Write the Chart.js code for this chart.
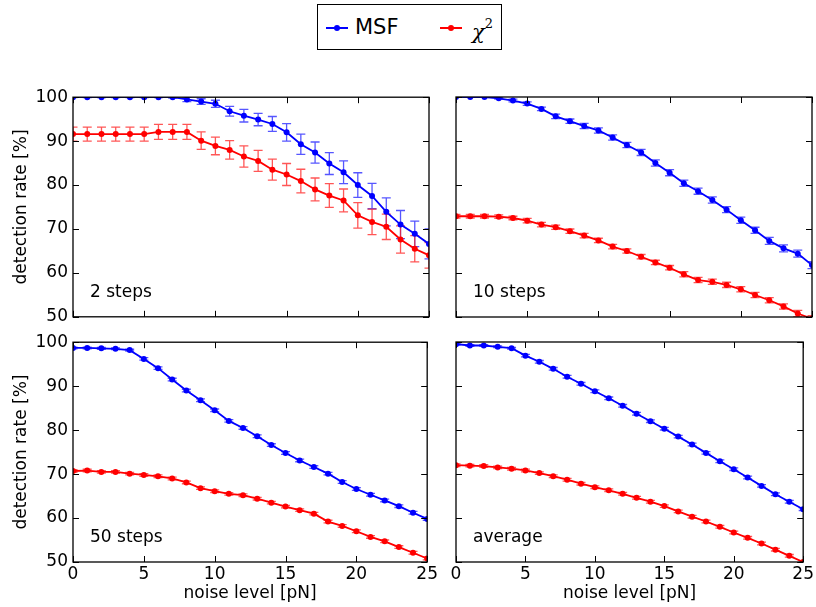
<!DOCTYPE html>
<html>
<head>
<meta charset="utf-8">
<script src="https://cdn.jsdelivr.net/npm/chart.js@4/dist/chart.umd.min.js"></script>
<style>
  body { margin: 0; background: #fff; }
  #figure { position: relative; width: 816px; height: 607px; overflow: hidden; font-family: 'DejaVu Sans', sans-serif; }
  #figure canvas { position: absolute; }
  #legend {
    position: absolute; left: 317px; top: 4px; width: 185px; height: 46px;
    box-sizing: border-box; border: 1.3px solid #000; background: #fff;
  }
  .key { position: absolute; top: 22px; width: 22px; height: 2px; }
  .key::after {
    content: ''; position: absolute; left: 8px; top: -2px;
    width: 6px; height: 6px; border-radius: 50%; background: inherit;
  }
  .key-label { position: absolute; top: 9px; font-size: 21px; line-height: 26px; color: #000; }
  .chi { font-family: 'DejaVu Serif', serif; font-style: italic; }
  .chi sup { font-style: normal; font-size: 13px; position: relative; top: -3px; }
</style>
</head>
<body>
<div id="figure">
  <div id="legend">
    <div class="key" style="left:8px; background:#0000ff"></div>
    <div class="key-label" style="left:37px">MSF</div>
    <div class="key" style="left:122px; background:#ff0000"></div>
    <div class="key-label chi" style="left:154px">χ<sup>2</sup></div>
  </div>
  <canvas id="p2"></canvas>
  <canvas id="p10"></canvas>
  <canvas id="p50"></canvas>
  <canvas id="pavg"></canvas>
</div>
<script>
// noise level [pN] on the x axis
const noiseLevels = [0, 1, 2, 3, 4, 5, 6, 7, 8, 9, 10, 11, 12, 13, 14, 15, 16, 17, 18, 19, 20, 21, 22, 23, 24, 25];

// 2 steps
const msf2 = [100, 100, 100, 100, 100, 100, 100, 100, 99.5, 99.0, 98.5, 96.8, 95.8, 94.9, 93.9, 92.0, 89.3, 87.4, 84.9, 82.9, 80.0, 77.5, 73.9, 71.0, 68.9, 66.6];
const msf2Err = [0.1, 0.1, 0.1, 0.1, 0.1, 0.1, 0.1, 0.2, 0.5, 0.65, 0.8, 1.1, 1.45, 1.4, 1.7, 2.0, 2.3, 2.4, 2.5, 2.6, 2.8, 2.9, 3.2, 3.2, 2.9, 3.4];
const chi2 = [91.6, 91.6, 91.6, 91.6, 91.6, 91.6, 92.1, 92.1, 92.1, 90.1, 88.9, 88.0, 86.5, 85.5, 83.5, 82.4, 80.9, 79.0, 77.6, 76.5, 73.1, 71.6, 70.5, 67.6, 65.5, 64.0];
const chi2Err = [1.6, 1.6, 1.6, 1.6, 1.6, 1.6, 1.7, 1.7, 1.7, 2.0, 2.0, 2.1, 2.4, 2.4, 2.4, 2.5, 2.7, 2.6, 2.7, 2.6, 2.9, 2.9, 2.9, 3.1, 3.0, 2.9];

// 10 steps
const msf10 = [100, 100, 100, 99.7, 99.2, 98.5, 97.3, 95.6, 94.5, 93.4, 92.4, 90.8, 89.1, 87.4, 85.0, 82.8, 80.4, 78.6, 76.6, 74.4, 72.0, 69.7, 67.3, 65.6, 64.4, 61.8];
const msf10Err = [0.1, 0.1, 0.1, 0.2, 0.3, 0.4, 0.4, 0.5, 0.5, 0.6, 0.6, 0.6, 0.6, 0.7, 0.7, 0.7, 0.7, 0.7, 0.7, 0.7, 0.7, 0.7, 0.8, 0.8, 0.8, 0.8];
const chi10 = [72.9, 72.9, 72.9, 72.8, 72.5, 71.9, 71.0, 70.4, 69.5, 68.5, 67.4, 66.0, 65.0, 63.7, 62.4, 61.2, 59.7, 58.4, 58.0, 57.3, 56.3, 55.0, 53.8, 52.4, 50.8, 49.6];
const chi10Err = [0.4, 0.4, 0.4, 0.4, 0.4, 0.5, 0.5, 0.5, 0.5, 0.5, 0.5, 0.5, 0.5, 0.5, 0.5, 0.5, 0.6, 0.6, 0.6, 0.6, 0.6, 0.6, 0.6, 0.6, 0.7, 0.7];

// 50 steps
const msf50 = [98.7, 98.7, 98.6, 98.5, 98.2, 96.2, 94.1, 91.5, 89.0, 86.8, 84.5, 82.1, 80.5, 78.6, 76.6, 74.8, 73.1, 71.6, 70.1, 68.2, 66.6, 65.3, 64.0, 62.7, 61.2, 59.8];
const msf50Err = [0.2, 0.2, 0.2, 0.2, 0.2, 0.3, 0.3, 0.3, 0.3, 0.3, 0.3, 0.3, 0.3, 0.3, 0.3, 0.3, 0.3, 0.3, 0.3, 0.3, 0.3, 0.3, 0.3, 0.3, 0.3, 0.3];
const chi50 = [70.7, 70.8, 70.5, 70.5, 70.1, 69.8, 69.5, 69.0, 68.1, 66.8, 66.1, 65.5, 65.2, 64.4, 63.5, 62.6, 61.8, 61.0, 59.2, 58.2, 57.0, 55.7, 54.7, 53.4, 52.1, 50.8];
const chi50Err = [0.3, 0.3, 0.3, 0.3, 0.3, 0.3, 0.3, 0.3, 0.3, 0.3, 0.3, 0.3, 0.3, 0.3, 0.3, 0.3, 0.3, 0.3, 0.3, 0.3, 0.3, 0.3, 0.3, 0.3, 0.3, 0.3];

// average
const msfAvg = [99.5, 99.2, 99.2, 98.9, 98.6, 96.9, 95.5, 93.9, 92.1, 90.5, 88.8, 87.2, 85.5, 83.7, 82.0, 80.3, 78.5, 76.7, 74.8, 72.9, 71.1, 69.2, 67.3, 65.4, 63.7, 62.0];
const msfAvgErr = [0.2, 0.2, 0.2, 0.2, 0.2, 0.3, 0.3, 0.3, 0.3, 0.3, 0.3, 0.3, 0.3, 0.3, 0.3, 0.3, 0.3, 0.3, 0.3, 0.3, 0.3, 0.3, 0.3, 0.3, 0.3, 0.3];
const chiAvg = [72.0, 71.9, 71.8, 71.5, 71.2, 70.8, 70.2, 69.5, 68.7, 67.8, 67.0, 66.3, 65.5, 64.6, 63.7, 62.7, 61.5, 60.3, 59.2, 58.0, 56.7, 55.5, 54.2, 52.8, 51.4, 50.0];
const chiAvgErr = [0.3, 0.3, 0.3, 0.3, 0.3, 0.3, 0.3, 0.3, 0.3, 0.3, 0.3, 0.3, 0.3, 0.3, 0.3, 0.3, 0.3, 0.3, 0.3, 0.3, 0.3, 0.3, 0.3, 0.3, 0.3, 0.3];

const seriesNames = ['MSF', 'χ²'];
const xTitle = 'noise level [pN]';
const yTitle = 'detection rate [%]';

const BLUE = '#0000ff';
const RED = '#ff0000';
const FONT_SIZE = 17;

Chart.defaults.font.family = "'DejaVu Sans', sans-serif";
Chart.defaults.font.size = FONT_SIZE;
Chart.defaults.color = '#000';

// vertical error bars with caps, clipped to the axes box
const errorBars = {
  id: 'errorBars',
  beforeDatasetsDraw(chart) {
    const { ctx, chartArea: a, scales: { x, y } } = chart;
    ctx.save();
    ctx.beginPath();
    ctx.rect(a.left, a.top, a.right - a.left, a.bottom - a.top);
    ctx.clip();
    chart.data.datasets.forEach(ds => {
      if (!ds.errors) return;
      ctx.strokeStyle = ds.errorColor;
      ctx.lineWidth = 1.3;
      ds.data.forEach((p, i) => {
        const px = x.getPixelForValue(p.x);
        const hi = y.getPixelForValue(p.y + ds.errors[i]);
        const lo = y.getPixelForValue(p.y - ds.errors[i]);
        ctx.beginPath();
        ctx.moveTo(px, hi); ctx.lineTo(px, lo);
        ctx.moveTo(px - 4.5, hi); ctx.lineTo(px + 4.5, hi);
        ctx.moveTo(px - 4.5, lo); ctx.lineTo(px + 4.5, lo);
        ctx.stroke();
      });
    });
    ctx.restore();
  }
};

// box around the axes, inward ticks on every side, and the panel caption
const frame = {
  id: 'frame',
  afterDatasetsDraw(chart, args, opts) {
    const { ctx, chartArea: a, scales: { x, y } } = chart;
    const len = 6;
    ctx.save();
    ctx.strokeStyle = '#000';
    ctx.lineWidth = 1;
    ctx.beginPath();
    x.ticks.forEach(t => {
      const px = Math.round(x.getPixelForValue(t.value)) + 0.5;
      ctx.moveTo(px, a.bottom); ctx.lineTo(px, a.bottom - len);
      ctx.moveTo(px, a.top); ctx.lineTo(px, a.top + len);
    });
    y.ticks.forEach(t => {
      const py = Math.round(y.getPixelForValue(t.value)) + 0.5;
      ctx.moveTo(a.left, py); ctx.lineTo(a.left + len, py);
      ctx.moveTo(a.right, py); ctx.lineTo(a.right - len, py);
    });
    ctx.stroke();
    ctx.lineWidth = 1.3;
    ctx.strokeRect(a.left, a.top, a.right - a.left, a.bottom - a.top);
    ctx.fillStyle = '#000';
    ctx.font = FONT_SIZE + "px 'DejaVu Sans', sans-serif";
    ctx.textBaseline = 'middle';
    ctx.fillText(opts.text, a.left + 17, a.bottom - 24);
    ctx.restore();
  }
};

function panelConfig(pos, caption, msf, msfErr, chi, chiErr, showX, showY) {
  const line = (name, values, errs, color, errColor) => ({
    label: name,
    data: values.map((v, i) => ({ x: noiseLevels[i], y: v })),
    errors: errs,
    errorColor: errColor,
    borderColor: color,
    backgroundColor: color,
    borderWidth: 1.8,
    pointRadius: 3,
    pointBorderWidth: 0,
    pointBackgroundColor: color,
    tension: 0,
    clip: 0
  });

  return {
    type: 'line',
    data: {
      datasets: [
        line(seriesNames[0], msf, msfErr, BLUE, 'rgba(30,30,255,0.75)'),
        line(seriesNames[1], chi, chiErr, RED, 'rgba(255,30,30,0.75)')
      ]
    },
    options: {
      responsive: false,
      maintainAspectRatio: false,
      animation: false,
      events: [],
      layout: { autoPadding: false, padding: { left: 0, right: pos.right, top: 9, bottom: showX ? 0 : 7 } },
      plugins: { legend: { display: false }, tooltip: { enabled: false }, frame: { text: caption } },
      scales: {
        x: {
          type: 'linear', min: 0, max: 25,
          grid: { display: false, drawTicks: false }, border: { display: false },
          ticks: { display: showX, stepSize: 5, padding: 2, maxRotation: 0 },
          title: { display: showX, text: xTitle, padding: { top: 0, bottom: 3 } },
          afterFit(s) { s.height = showX ? 45 : 0; }
        },
        y: {
          min: 50, max: 100,
          grid: { display: false, drawTicks: false }, border: { display: false },
          ticks: { display: showY, stepSize: 10, padding: 5 },
          title: { display: showY, text: yTitle, padding: { top: 11, bottom: 0 } },
          afterFit(s) { s.width = showY ? 73 : 16; }
        }
      }
    },
    plugins: [errorBars, frame]
  };
}

// pos.top/height describe where the axes box should sit: box top = top + 9,
// box bottom = top + height - (showX ? 45 : 7). Tick labels on the y axis push
// the box inwards, so measure once and grow the canvas to compensate.
function makePanel(id, pos, caption, msf, msfErr, chi, chiErr, showX, showY) {
  const canvas = document.getElementById(id);
  const wantTop = 9;
  const wantBottom = pos.height - (showX ? 45 : 7);
  canvas.width = pos.width;
  canvas.height = pos.height;
  let chart = new Chart(canvas, panelConfig(pos, caption, msf, msfErr, chi, chiErr, showX, showY));
  const dTop = chart.chartArea.top - wantTop;
  const dBottom = wantBottom - chart.chartArea.bottom;
  chart.destroy();

  canvas.style.left = pos.left + 'px';
  canvas.style.top = (pos.top - dTop) + 'px';
  canvas.width = pos.width;
  canvas.height = pos.height + dTop + dBottom;
  canvas.style.width = pos.width + 'px';
  canvas.style.height = canvas.height + 'px';
  return new Chart(canvas, panelConfig(pos, caption, msf, msfErr, chi, chiErr, showX, showY));
}

makePanel('p2',   { left: 0,   top: 88,  width: 440, height: 236, right: 11 }, '2 steps',  msf2,   msf2Err,   chi2,   chi2Err,   false, true);
makePanel('p10',  { left: 440, top: 88,  width: 376, height: 236, right: 4 },  '10 steps', msf10,  msf10Err,  chi10,  chi10Err,  false, false);
makePanel('p50',  { left: 0,   top: 333, width: 440, height: 274, right: 11 }, '50 steps', msf50,  msf50Err,  chi50,  chi50Err,  true,  true);
makePanel('pavg', { left: 440, top: 333, width: 376, height: 274, right: 4 },  'average',  msfAvg, msfAvgErr, chiAvg, chiAvgErr, true,  false);
</script>
</body>
</html>
